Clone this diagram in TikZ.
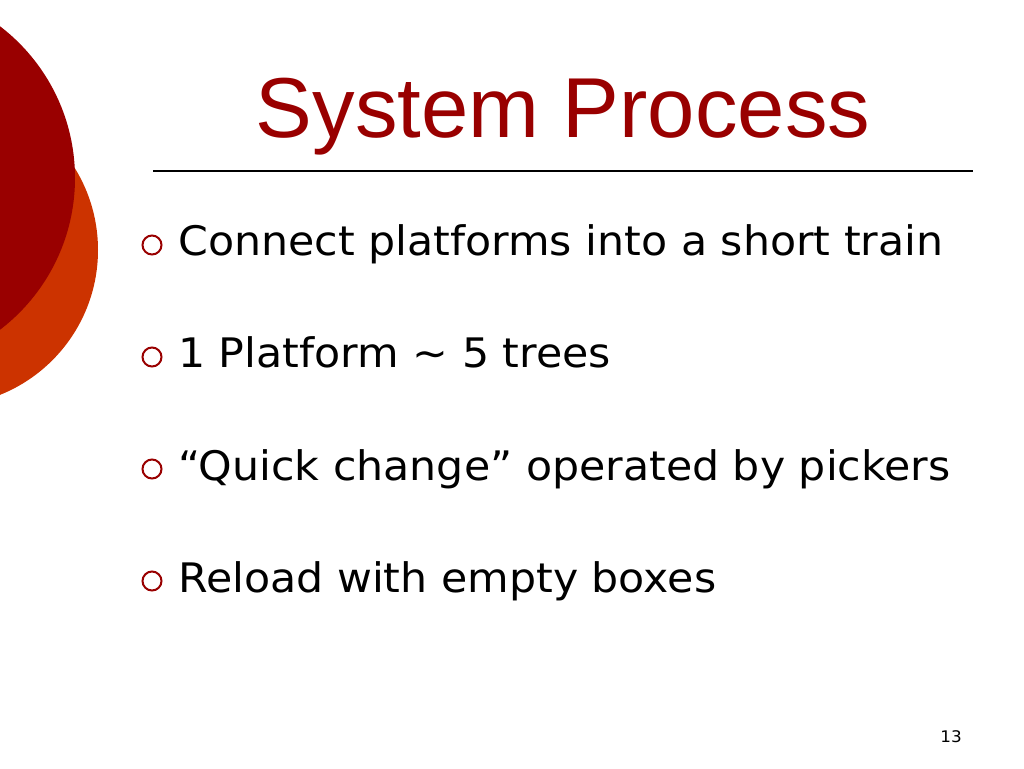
\documentclass[tikz,border=0pt]{standalone}
\usepackage{fontspec}
\setmainfont[FakeStretch=1.05]{DejaVu Sans}
\newfontfamily\titlefont{Liberation Sans}
\usepackage{tikz}
\definecolor{darkred}{HTML}{990000}
\definecolor{rust}{HTML}{CC3300}

\begin{document}
\begin{tikzpicture}[x=0.75pt, y=-0.75pt,
    title/.style={anchor=base, inner sep=0pt, text=darkred, font=\titlefont\fontsize{63.8}{70}\selectfont},
    item/.style={anchor=base west, inner sep=0pt, font=\fontsize{30.5}{36}\selectfont},
    bullet/.style={draw=darkred, line width=1.5pt}]
\useasboundingbox (0,0) rectangle (1024,768);
\clip (0,0) rectangle (1024,768);
%\draw[help lines, color=gray!30, dashed] (0,0) grid[step=50] (1024,768);
\fill[rust] (-58,250) circle (156);
\fill[darkred] (-116,178) circle (191);
\node[title] (head) at (563,137) {System Process};
\draw[black, line width=0.9pt] (153,171) -- (973,171);
\draw[bullet] (152,245) circle (9.5);
\node[item] (one) at (178,255) {Connect platforms into a short train};
\draw[bullet] (152,357) circle (9.5);
\node[item] (two) at (178,367) {1 Platform \textasciitilde{} 5 trees};
\draw[bullet] (152,469) circle (9.5);
\node[item] (three) at (178,480) {“Quick change” operated by pickers};
\draw[bullet] (152,581) circle (9.5);
\node[item] (four) at (178,592) {Reload with empty boxes};
\node[anchor=base east, inner sep=0pt, font=\fontsize{12}{14}\selectfont] (page) at (962,742) {13};
\end{tikzpicture}
\end{document}
